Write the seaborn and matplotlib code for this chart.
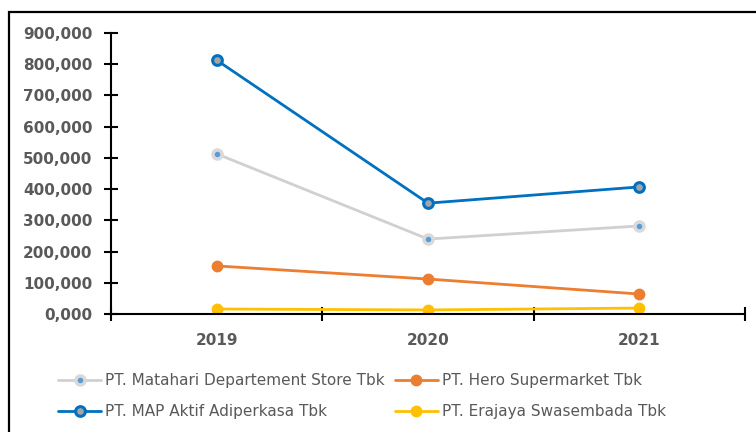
import matplotlib
matplotlib.use("Agg")
import matplotlib.pyplot as plt
import seaborn as sns
import pandas as pd
from matplotlib.patches import Rectangle

years = ["2019", "2020", "2021"]
matahari = [513000, 240000, 282000]
map_aktif = [813000, 355000, 407000]
hero = [154000, 112000, 64000]
erajaya = [16000, 13000, 19000]
series_names = [
    "PT. Matahari Departement Store Tbk",
    "PT. MAP Aktif Adiperkasa Tbk",
    "PT. Hero Supermarket Tbk",
    "PT. Erajaya Swasembada Tbk",
]
ytick_values = [0, 100000, 200000, 300000, 400000, 500000, 600000, 700000, 800000, 900000]
ytick_labels = ["0,000", "100,000", "200,000", "300,000", "400,000", "500,000",
                "600,000", "700,000", "800,000", "900,000"]

sns.set_style("white")
plt.rcParams["font.family"] = ["DejaVu Sans"]

fig = plt.figure(figsize=(7.56, 4.32), dpi=100)
ax = fig.add_axes([111 / 756, 1 - 314 / 432, (745 - 111) / 756, (314 - 33) / 432])

styles = [
    dict(color="#D0D0D0", mfc="#5B9BD5", mec="#D9D9D9", mew=2.5, ms=6.5),
    dict(color="#0070C0", mfc="#A5A5A5", mec="#0070C0", mew=2.2, ms=7),
    dict(color="#ED7D31", mfc="#ED7D31", mec="#ED7D31", mew=1, ms=7.5),
    dict(color="#FFC000", mfc="#FFC000", mec="#FFC000", mew=1, ms=7.5),
]
all_vals = [matahari, map_aktif, hero, erajaya]

for name, vals, st in zip(series_names, all_vals, styles):
    df = pd.DataFrame({"year": years, "value": vals})
    sns.lineplot(data=df, x="year", y="value", ax=ax, color=st["color"], lw=2.0,
                 marker="o", markerfacecolor=st["mfc"], markeredgecolor=st["mec"],
                 markeredgewidth=st["mew"], markersize=st["ms"], label=name, legend=False)
handles = ax.get_lines()

ax.set_xlim(-0.5, 2.5)
ax.set_ylim(0, 900000)
ax.set_xlabel("")
ax.set_ylabel("")
ax.set_xticks([-0.5, 0.5, 1.5, 2.5])
ax.set_xticklabels([])
ax.set_xticks([0, 1, 2], minor=True)
ax.set_xticklabels(years, minor=True, fontsize=11, fontweight="bold", color="#595959")
ax.tick_params(axis="x", which="minor", bottom=True, length=0, pad=14)
ax.tick_params(axis="x", which="major", bottom=True, direction="inout", length=10,
               width=1.5, color="black")
ax.set_yticks(ytick_values)
ax.set_yticklabels(ytick_labels, fontsize=11, fontweight="bold", color="#595959")
ax.tick_params(axis="y", left=True, direction="inout", length=10, width=1.5,
               color="black", pad=8.5)
for s in ["top", "right"]:
    ax.spines[s].set_visible(False)
for s in ["left", "bottom"]:
    ax.spines[s].set_color("black")
    ax.spines[s].set_linewidth(1.5)

fig.legend(handles=list(handles), labels=series_names, ncol=2, loc="upper left",
           bbox_to_anchor=(52 / 756, 1 - 367 / 432), frameon=False, fontsize=11,
           labelcolor="#595959", handlelength=2.8, handletextpad=0.3,
           columnspacing=0.65, labelspacing=1.05, borderaxespad=0)

fig.patches.append(Rectangle((9 / 756, -0.1), 1.2, 1 - 12 / 432 + 0.1,
                             transform=fig.transFigure, fill=False, edgecolor="black",
                             linewidth=1.6, zorder=0))

fig.savefig("out.png", dpi=100)
